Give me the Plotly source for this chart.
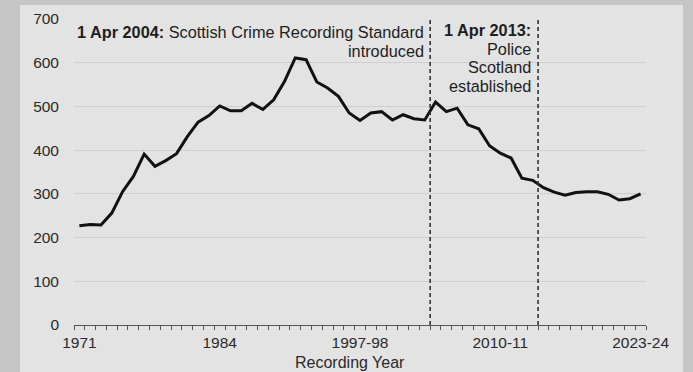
import plotly.graph_objects as go

# ---- data ----
years = [str(y) for y in range(1971, 1995)] + [f"{y}-{str(y + 1)[-2:]}" for y in range(1995, 2024)]
values = [227, 230, 229, 256, 305, 340, 391, 363, 376, 392,
          431, 464, 479, 501, 490, 490, 507, 493, 515, 557,
          611, 607, 556, 542, 523, 485, 468, 485, 488, 469,
          481, 472, 469, 510, 488, 496, 458, 449, 410, 393,
          382, 336, 331, 314, 304, 297, 303, 305, 305, 299,
          286, 289, 300]
tick_labels = ["1971", "1984", "1997-98", "2010-11", "2023-24"]
event_positions = [32.5, 42.5]
event_lines = [["<b>1 Apr 2004:</b> Scottish Crime Recording Standard", "introduced"],
               ["<b>1 Apr 2013:</b>", "Police", "Scotland", "established"]]
y_ticks = [0, 100, 200, 300, 400, 500, 600, 700]
x_title = "Recording Year"

idx = list(range(len(years)))
tick_idx = [years.index(t) for t in tick_labels]

FONT = "Liberation Sans, Arial, sans-serif"

fig = go.Figure()
fig.add_trace(go.Scatter(x=idx, y=values, mode="lines",
                         line=dict(color="#111111", width=3),
                         hovertext=years, showlegend=False))

W, H = 693, 372
ml, mr, mt, mb = 74, 47, 19, 47
pw, ph = W - ml - mr, H - mt - mb

shapes = [dict(type="rect", xref="paper", yref="paper",
               x0=(20 - ml) / pw, x1=(683 - ml) / pw,
               y0=-(mb + 5) / ph, y1=(H - 5 - mb) / ph,
               fillcolor="#e3e3e3", line=dict(width=0), layer="below")]
for p in event_positions:
    shapes.append(dict(type="line", xref="x", yref="y", x0=p, x1=p, y0=0, y1=700,
                       line=dict(color="#333333", width=1.6, dash="4px,3px"), layer="above"))

annotations = []
line_offsets = [[-13, -32], [-11, -29.5, -48, -66.5]]
x_shifts = [-4, -5]
for p, lines, offs, xs in zip(event_positions, event_lines, line_offsets, x_shifts):
    for t, o in zip(lines, offs):
        annotations.append(dict(x=p, y=700, xref="x", yref="y", text=t, showarrow=False,
                                xanchor="right", yanchor="middle", align="right",
                                xshift=xs, yshift=o,
                                font=dict(family=FONT, size=16.3, color="#1e1e1e")))
annotations.append(dict(x=(350 - ml) / pw, y=-(362 - (H - mb)) / ph,
                        xref="paper", yref="paper", text=x_title, showarrow=False,
                        xanchor="center", yanchor="middle",
                        font=dict(family=FONT, size=16, color="#2a2a2a")))

fig.update_layout(
    width=W, height=H,
    margin=dict(l=ml, r=mr, t=mt, b=mb, pad=0),
    paper_bgcolor="#c6c6c6",
    plot_bgcolor="rgba(0,0,0,0)",
    shapes=shapes, annotations=annotations,
    font=dict(family=FONT, size=15.5, color="#2a2a2a"),
    xaxis=dict(range=[-0.5, len(years) - 0.5], tickmode="array", tickvals=tick_idx,
               ticktext=tick_labels, ticks="", showgrid=False, zeroline=False,
               showline=True, linecolor="#555555", linewidth=1, automargin=False,
               minor=dict(tickmode="array", tickvals=[i - 0.5 for i in range(len(years) + 1)],
                          ticks="outside", ticklen=4, tickcolor="#555555", tickwidth=1, showgrid=False),
               tickfont=dict(size=15.5), ticklabelstandoff=3),
    yaxis=dict(range=[0, 700], tickmode="array", tickvals=y_ticks, ticks="",
               showgrid=True, gridcolor="#cfcfcf", gridwidth=1, zeroline=False,
               showline=False, tickfont=dict(size=15.5), ticklabelstandoff=14, automargin=False),
)

fig.write_html("out.html", config={"displayModeBar": False},
               post_script="document.body.style.margin='0';document.body.style.background='#c6c6c6';")
